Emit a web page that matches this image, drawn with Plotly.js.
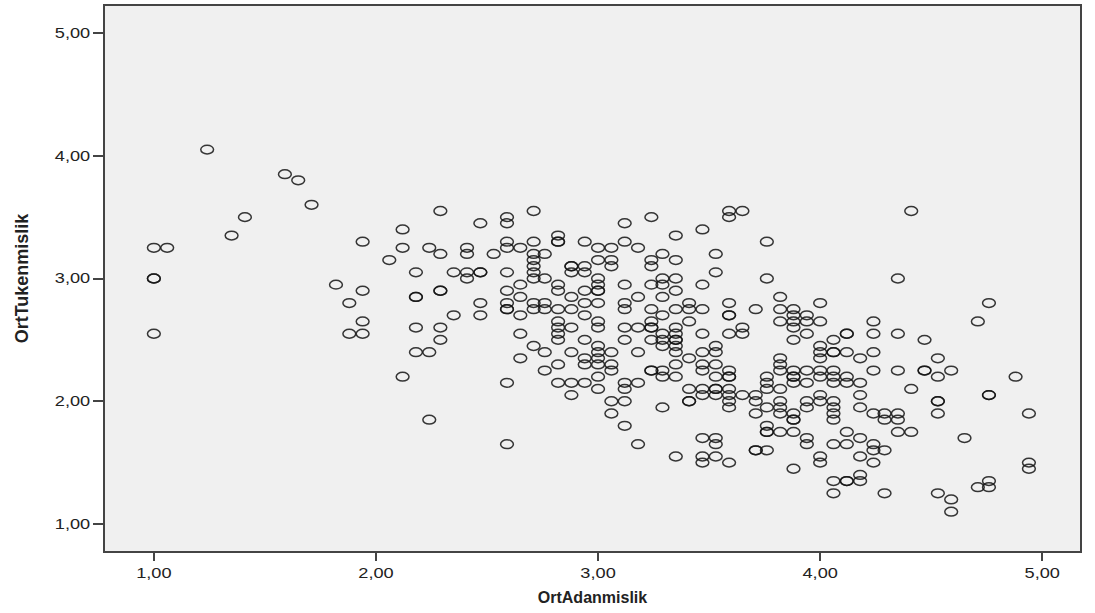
<!DOCTYPE html>
<html><head><meta charset="utf-8">
<script src="https://cdn.plot.ly/plotly-3.0.1.min.js"></script>
<style>html,body{margin:0;padding:0;background:#fff}#chart{width:1095px;height:613px}</style>
</head><body><div id="chart"></div>
<script>
// OrtAdanmislik levels (x) and OrtTukenmislik values (y) observed at each level
const adanmislikLevels = [1.00,1.06,1.24,1.35,1.41,1.59,1.65,1.71,1.82,1.88,1.94,2.06,2.12,2.18,2.24,2.29,2.35,2.41,2.47,2.53,2.59,2.65,2.71,2.76,2.82,2.88,2.94,3.00,3.06,3.12,3.18,3.24,3.29,3.35,3.41,3.47,3.53,3.59,3.65,3.71,3.76,3.82,3.88,3.94,4.00,4.06,4.12,4.18,4.24,4.29,4.35,4.41,4.47,4.53,4.59,4.65,4.71,4.76,4.88,4.94];
const tukenmislikByLevel = [
 [3.25,3.00,3.00,2.55],
 [3.25],
 [4.05],
 [3.35],
 [3.50],
 [3.85],
 [3.80],
 [3.60],
 [2.95],
 [2.80,2.55],
 [3.30,2.90,2.65,2.55],
 [3.15],
 [3.40,3.25,2.20],
 [3.05,2.85,2.85,2.60,2.40],
 [3.25,2.40,1.85],
 [3.55,3.20,2.90,2.90,2.60,2.50],
 [3.05,2.70],
 [3.25,3.20,3.05,3.00],
 [3.45,3.05,3.05,2.80,2.70],
 [3.20],
 [3.50,3.45,3.30,3.25,3.05,2.90,2.80,2.75,2.75,2.15,1.65],
 [3.25,2.95,2.85,2.70,2.55,2.35],
 [3.55,3.30,3.20,3.15,3.10,3.05,3.00,2.80,2.75,2.45],
 [3.20,3.00,2.80,2.75,2.40,2.25],
 [3.35,3.30,3.30,2.95,2.90,2.75,2.65,2.60,2.55,2.50,2.30,2.15],
 [3.10,3.10,3.05,2.85,2.75,2.60,2.40,2.15,2.05],
 [3.30,3.10,3.05,2.90,2.80,2.70,2.50,2.35,2.30,2.15],
 [3.25,3.15,3.00,2.95,2.90,2.90,2.80,2.65,2.60,2.45,2.40,2.35,2.30,2.20,2.10],
 [3.25,3.15,3.10,2.40,2.30,2.25,2.00,1.90],
 [3.45,3.30,2.95,2.80,2.75,2.60,2.50,2.15,2.10,2.00,1.80],
 [3.25,2.85,2.60,2.40,2.15,1.65],
 [3.50,3.15,3.10,2.95,2.75,2.65,2.60,2.60,2.50,2.25,2.25],
 [3.20,3.00,2.95,2.85,2.70,2.55,2.50,2.45,2.25,2.20,1.95],
 [3.35,3.15,3.00,2.90,2.75,2.60,2.55,2.50,2.50,2.45,2.40,2.30,2.20,1.55],
 [2.80,2.75,2.65,2.35,2.10,2.00,2.00],
 [3.40,2.95,2.75,2.55,2.40,2.30,2.25,2.10,2.05,1.70,1.55,1.50],
 [3.20,3.05,2.45,2.40,2.30,2.20,2.10,2.10,2.05,1.70,1.65,1.55],
 [3.55,3.50,2.80,2.70,2.70,2.55,2.25,2.20,2.20,2.10,2.05,2.00,1.95,1.50],
 [3.55,2.60,2.55,2.05],
 [2.75,2.05,2.00,1.90,1.60,1.60],
 [3.30,3.00,2.20,2.15,2.10,1.95,1.80,1.75,1.75,1.60],
 [2.85,2.75,2.65,2.35,2.30,2.25,2.10,2.00,1.95,1.90,1.75],
 [2.75,2.70,2.65,2.60,2.50,2.25,2.20,2.20,2.15,1.90,1.85,1.85,1.75,1.45],
 [2.70,2.65,2.55,2.25,2.15,2.00,1.95,1.70,1.65],
 [2.80,2.65,2.45,2.40,2.35,2.25,2.20,2.05,2.00,1.55,1.50],
 [2.50,2.40,2.40,2.25,2.20,2.15,2.00,1.95,1.90,1.85,1.65,1.35,1.25],
 [2.55,2.55,2.40,2.20,2.15,1.75,1.65,1.35,1.35],
 [2.35,2.15,2.05,1.95,1.70,1.55,1.40,1.35],
 [2.65,2.55,2.40,2.25,1.90,1.65,1.60,1.50],
 [1.90,1.85,1.60,1.25],
 [3.00,2.55,2.25,1.90,1.85,1.75],
 [3.55,2.10,1.75],
 [2.50,2.25,2.25],
 [2.35,2.20,2.00,2.00,1.90,1.25],
 [2.25,1.20,1.10],
 [1.70],
 [2.65,1.30],
 [2.80,2.05,2.05,1.35,1.30],
 [2.20],
 [1.90,1.50,1.45]
];
const tickValues = [1,2,3,4,5];
const tickLabels = ['1,00','2,00','3,00','4,00','5,00'];

const xs = [], ys = [];
adanmislikLevels.forEach((lv, i) => {
  tukenmislikByLevel[i].forEach(v => { xs.push(lv); ys.push(v); });
});

const trace = {
  type: 'scatter', mode: 'markers', x: xs, y: ys,
  marker: {symbol: 'circle-open', size: 11, color: 'rgba(20,20,20,0.85)', line: {width: 1.5}},
  hoverinfo: 'x+y'
};

const axisFont = {family: 'Liberation Sans, Arial, sans-serif', size: 14, color: '#222'};
const layout = {
  width: 1095, height: 613,
  margin: {l: 105, r: 15, t: 6, b: 62},
  paper_bgcolor: '#ffffff', plot_bgcolor: '#f0f0f0',
  separators: ',.',
  showlegend: false,
  xaxis: {
    range: [0.78, 5.17], tickvals: tickValues, ticktext: tickLabels,
    showgrid: false, zeroline: false,
    showline: true, linecolor: '#444', linewidth: 2, mirror: true,
    ticks: 'outside', ticklen: 8, tickwidth: 2, tickcolor: '#444',
    tickfont: axisFont,
    title: {text: '<b>OrtAdanmislik</b>', font: {family: 'Liberation Sans, Arial, sans-serif', size: 16, color: '#222'}, standoff: 12}
  },
  yaxis: {
    range: [0.78, 5.22], tickvals: tickValues, ticktext: tickLabels,
    showgrid: false, zeroline: false,
    showline: true, linecolor: '#444', linewidth: 2, mirror: true,
    ticks: 'outside', ticklen: 10, tickwidth: 2, tickcolor: '#444',
    tickfont: axisFont,
    title: {text: '<b>OrtTukenmislik</b>', font: {family: 'Liberation Sans, Arial, sans-serif', size: 18, color: '#222'}, standoff: 30}
  }
};

Plotly.newPlot('chart', [trace], layout, {displayModeBar: false, staticPlot: true}).then(() => {
  // draw the markers slightly wider than tall, like the reference
  const rx = 6.4, ry = 4.4;
  const d = 'M' + rx + ',0A' + rx + ',' + ry + ' 0 1,1 0,-' + ry + 'A' + rx + ',' + ry + ' 0 0,1 ' + rx + ',0Z';
  document.querySelectorAll('#chart .scatterlayer path.point').forEach(p => p.setAttribute('d', d));
  // widen tick labels horizontally, as in the reference
  document.querySelectorAll('#chart .xtick text, #chart .ytick text').forEach(t => {
    const w = t.getComputedTextLength();
    t.setAttribute('textLength', (w * 1.3).toFixed(1));
    t.setAttribute('lengthAdjust', 'spacingAndGlyphs');
  });
});
</script>
</body></html>
